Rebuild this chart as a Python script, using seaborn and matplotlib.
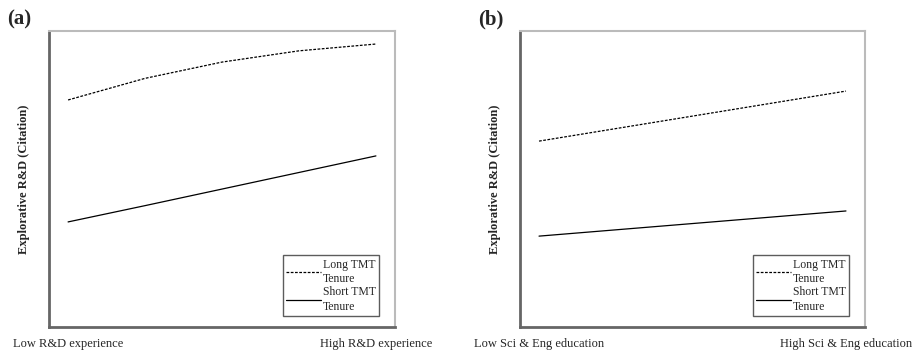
import numpy as np
import pandas as pd
import seaborn as sns
import matplotlib.pyplot as plt

# values (axis 0..10 arbitrary units, x: low=0, high=1)
x_a = [0, 0.25, 0.5, 0.75, 1]
long_a = [7.67, 8.40, 8.95, 9.33, 9.56]
short_a = [3.55, 4.10, 4.66, 5.22, 5.78]

x_b = [0, 1]
long_b = [6.28, 7.97]
short_b = [3.07, 3.92]

labels_a = ["Low R&D experience", "High R&D experience"]
labels_b = ["Low Sci & Eng education", "High Sci & Eng education"]
series = ["Long TMT\nTenure", "Short TMT\nTenure"]

sns.set_style("white")
plt.rcParams['font.family'] = ['Liberation Serif', 'DejaVu Serif']

fig = plt.figure(figsize=(9.21, 3.54), dpi=100)
ax1 = fig.add_axes([49/921, 1-327/354, 346/921, 296/354])
ax2 = fig.add_axes([520/921, 1-327/354, 345/921, 296/354])


def panel(ax, x, lo, sh, ticklabels, tag, tagx):
    df = pd.DataFrame({
        "x": list(x) + list(x),
        "y": list(lo) + list(sh),
        "s": [series[0]] * len(x) + [series[1]] * len(x),
    })
    sns.lineplot(data=df, x="x", y="y", style="s", color="black",
                 dashes={series[0]: (2.2, 1.2), series[1]: ""},
                 linewidth=0.9, ax=ax, legend=True)
    ax.set_xlim(-0.062, 1.062)
    ax.set_ylim(0, 10)
    ax.set_xticks([0, 1])
    ax.set_xticklabels(ticklabels, fontsize=9)
    ax.set_yticks([])
    ax.tick_params(axis="x", length=0, pad=8)
    ax.set_xlabel("")
    ax.set_ylabel("Explorative R&D (Citation)", fontsize=9, fontweight="bold", labelpad=14)
    for side in ["left", "bottom"]:
        ax.spines[side].set_color("#666666")
        ax.spines[side].set_linewidth(2)
    for side in ["top", "right"]:
        ax.spines[side].set_color("#bbbbbb")
        ax.spines[side].set_linewidth(1.5)
    leg = ax.legend(loc="lower right", bbox_to_anchor=(0.955, 0.037), fontsize=8.5,
                    frameon=True, fancybox=False, handlelength=2.9, handletextpad=0.2,
                    borderpad=0.3, labelspacing=0.1, borderaxespad=0)
    for t in leg.get_texts():
        t.set_linespacing(1.25)
    leg.get_frame().set_edgecolor("#333333")
    leg.get_frame().set_linewidth(1.0)
    fig.text(tagx / 921, 1 - 19 / 354, tag, fontsize=15, fontweight="bold",
             ha="left", va="center")


panel(ax1, x_a, long_a, short_a, labels_a, "(a)", 7)
panel(ax2, x_b, long_b, short_b, labels_b, "(b)", 478)

fig.savefig("out.png", dpi=100)
